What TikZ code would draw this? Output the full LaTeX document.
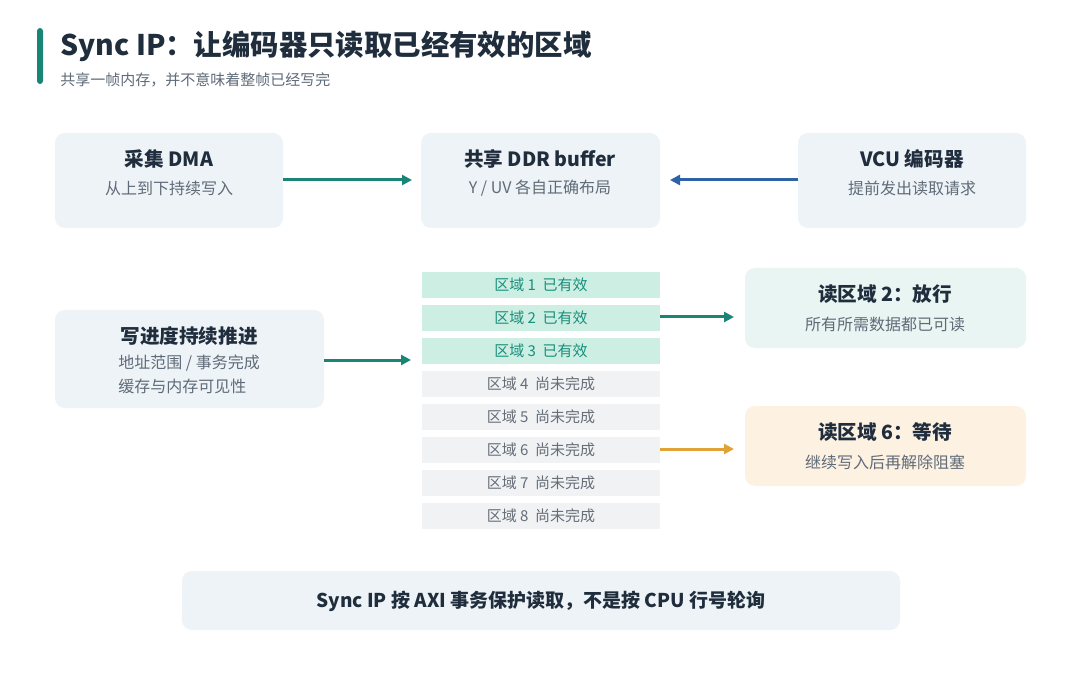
\documentclass[tikz,border=0pt]{standalone}
\usepackage{fontspec}
\setmainfont{Noto Sans CJK SC}
\usetikzlibrary{arrows.meta}
\definecolor{ttl}{HTML}{1F2D3D}
\definecolor{sub}{HTML}{5F6B78}
\definecolor{teal}{HTML}{1A8577}
\definecolor{blu}{HTML}{2E62A6}
\definecolor{org}{HTML}{E0A338}
\definecolor{boxf}{HTML}{EEF3F7}
\definecolor{grnf}{HTML}{CCEEE3}
\definecolor{grnt}{HTML}{1A8F7A}
\definecolor{gryf}{HTML}{F0F2F4}
\definecolor{gryt}{HTML}{666E78}
\definecolor{okf}{HTML}{E8F5F2}
\definecolor{wtf}{HTML}{FDF1E2}
\tikzset{
 box/.style={fill=#1,rounded corners=5pt,inner sep=0},
 bt/.style={font=\fontsize{9.8}{11}\selectfont\bfseries,text=ttl},
 bs/.style={font=\fontsize{8}{12}\selectfont,text=sub},
 reg/.style={fill=#1,inner sep=0},
 arr/.style={draw=#1,line width=1.5pt,-{Triangle[length=5pt,width=5pt]}},
}
\begin{document}
\begin{tikzpicture}[x=0.5pt,y=-0.5pt]
\useasboundingbox[fill=white] (0,0) rectangle (1080,678);
\fill[teal,rounded corners=1.5pt] (37,28) rectangle (43,84);
\node[anchor=west,font=\fontsize{14.2}{16}\selectfont\bfseries,text=ttl,inner sep=0] (title) at (60,46) {Sync IP：让编码器只读取已经有效的区域};
\node[anchor=west,font=\fontsize{7.5}{9}\selectfont,text=sub,inner sep=0] (subt) at (60,80) {共享一帧内存，并不意味着整帧已经写完};
% top boxes
\path[box=boxf] (55,133) rectangle (283,228); \coordinate (dmaR) at (283,180);
\node[bt] (dmat) at (169,159) {采集 DMA}; \node[bs] (dmas) at (169,188) {从上到下持续写入};
\path[box=boxf] (421,133) rectangle (660,228); \coordinate (ddrL) at (412,180); \coordinate (ddrR) at (670,180);
\node[bt] (ddrt) at (540,159) {共享 DDR buffer}; \node[bs] (ddrs) at (540,188) {Y / UV 各自正确布局};
\path[box=boxf] (798,133) rectangle (1026,228); \coordinate (vcuL) at (798,180);
\node[bt] (vcut) at (912,159) {VCU 编码器}; \node[bs] (vcus) at (912,188) {提前发出读取请求};
\draw[arr=teal] (dmaR) -- (ddrL);
\draw[arr=blu] (vcuL) -- (ddrR);
% progress
\path[box=boxf] (55,310) rectangle (324,408); \coordinate (prR) at (324,360); \coordinate (regL) at (411,360);
\node[bt] (prt) at (189,336) {写进度持续推进};
\node[bs,align=left,anchor=north west,inner sep=0] (prs) at (118,355) {地址范围 / 事务完成\\缓存与内存可见性};
\draw[arr=teal] (prR) -- (regL);
% regions
\foreach \i in {1,2,3} {
 \pgfmathsetmacro\yy{272+33*(\i-1)}
 \fill[grnf] (422,\yy) rectangle (660,\yy+26);
 \node[font=\fontsize{7.5}{9}\selectfont,text=grnt] (r\i) at (541,\yy+13) {区域 \i\ \ 已有效};
}
\foreach \i in {4,...,8} {
 \pgfmathsetmacro\yy{272+33*(\i-1)}
 \fill[gryf] (422,\yy) rectangle (660,\yy+26);
 \node[font=\fontsize{7.5}{9}\selectfont,text=gryt] (r\i) at (541,\yy+13) {区域 \i\ \ 尚未完成};
}
\coordinate (r2R) at (660,317); \coordinate (r6R) at (660,449);
% read boxes
\path[box=okf] (745,268) rectangle (1026,348); \coordinate (okL) at (734,317);
\node[bt] (okt) at (885,294) {读区域 2：放行}; \node[bs] (oks) at (885,324) {所有所需数据都已可读};
\path[box=wtf] (745,406) rectangle (1026,486); \coordinate (wtL) at (734,449);
\node[bt] (wtt) at (885,432) {读区域 6：等待}; \node[bs] (wts) at (885,462) {继续写入后再解除阻塞};
\draw[arr=teal] (r2R) -- (okL);
\draw[arr=org] (r6R) -- (wtL);
% bottom
\path[box=boxf] (182,571) rectangle (900,630);
\node[font=\fontsize{9.5}{11}\selectfont\bfseries,text=ttl] (bot) at (541,601) {Sync IP 按 AXI 事务保护读取，不是按 CPU 行号轮询};
\end{tikzpicture}
\end{document}
